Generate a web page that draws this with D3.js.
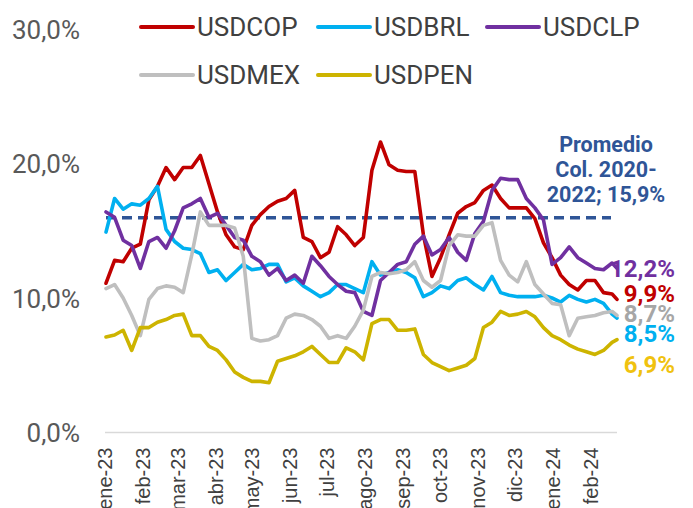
<!DOCTYPE html>
<html>
<head>
<meta charset="utf-8">
<script src="https://cdn.jsdelivr.net/npm/d3@7"></script>
<style>
  html, body { margin: 0; padding: 0; background: #fff; }
  svg { display: block; }
</style>
</head>
<body>
<svg id="chart" width="693" height="508"></svg>
<script>
// ---------- DATA ----------
const seriesNames = ["USDCOP", "USDBRL", "USDCLP", "USDMEX", "USDPEN"];
const monthLabels = ["ene-23","feb-23","mar-23","abr-23","may-23","jun-23","jul-23","ago-23","sep-23","oct-23","nov-23","dic-23","ene-24","feb-24"];
const yTicks = [0, 10, 20, 30];
const promedio = 15.9;
const endLabels = ["12,2%", "9,9%", "8,7%", "8,5%", "6,9%"];

// weekly observations (Mondays from 2 Jan 2023) plus the last day, 23 Feb 2024
const dates = d3.timeMonday.range(new Date(2023, 0, 2), new Date(2024, 1, 20));
dates.push(new Date(2024, 1, 23));

const usdcop = [11.1,12.8,12.7,13.7,14.0,17.3,18.3,19.7,18.8,19.7,19.7,20.6,18.5,16.4,14.7,13.8,13.6,15.4,16.2,16.8,17.2,17.4,18.0,14.5,14.2,13.0,13.4,15.3,14.7,13.9,14.5,19.5,21.6,19.9,19.5,19.4,19.4,14.7,11.6,13.0,14.7,16.3,16.8,17.1,18.0,18.4,17.4,16.7,16.7,16.7,15.9,14.1,13.0,11.7,11.0,10.6,11.3,11.3,10.4,10.3,9.9];
const usdbrl = [14.9,17.4,16.6,17.0,16.9,17.4,18.3,15.1,14.2,13.7,13.6,13.3,11.9,12.1,11.3,11.9,12.5,12.1,12.2,12.5,12.5,11.2,11.5,10.9,10.5,10.1,10.4,11.0,11.0,10.7,10.4,12.7,11.7,11.9,12.1,11.9,11.5,10.1,10.4,10.9,10.7,11.3,11.5,11.0,10.6,11.6,10.4,10.2,10.1,10.1,10.1,10.2,10.0,9.7,10.2,9.9,9.7,9.9,9.6,8.8,8.5];
const usdclp = [16.4,16.0,14.3,13.9,12.2,14.2,14.5,13.7,15.0,16.7,17.0,17.4,16.0,16.3,15.4,14.5,14.3,13.1,12.7,11.7,12.2,11.3,11.7,11.1,13.1,12.4,11.6,11.0,10.5,10.4,9.0,8.7,11.3,11.9,12.5,12.7,14.0,14.6,13.2,13.6,14.5,13.4,12.8,14.8,15.7,18.0,18.9,18.8,18.8,17.4,16.7,15.8,12.5,13.0,13.8,13.0,12.6,12.2,12.1,12.6,12.2];
const usdmex = [10.7,11.0,10.0,8.7,7.2,9.9,10.7,10.9,10.8,10.4,13.2,16.4,15.4,15.4,15.4,15.2,13.1,7.0,6.8,6.9,7.2,8.5,8.8,8.7,8.4,7.9,7.0,7.2,7.0,7.9,9.1,11.6,11.9,11.8,11.9,12.1,12.7,11.3,10.8,11.3,13.9,14.7,14.6,14.6,15.4,15.6,12.8,11.7,11.2,12.7,11.0,10.3,9.6,9.5,7.2,8.5,8.6,8.7,8.9,9.0,8.7];
const usdpen = [7.1,7.25,7.6,6.1,7.8,7.8,8.2,8.4,8.7,8.8,7.2,7.2,6.4,6.1,5.4,4.5,4.1,3.8,3.8,3.7,5.3,5.5,5.7,6.0,6.4,5.8,5.2,5.2,6.3,6.0,5.4,8.1,8.4,8.4,7.6,7.6,7.7,5.8,5.2,4.9,4.6,4.8,5.0,5.5,7.8,8.2,9.0,8.7,8.8,9.0,8.6,7.8,7.2,6.9,6.5,6.2,6.0,5.8,6.1,6.7,6.9];

// ---------- STYLE ----------
const lineColors  = ["#C00000", "#00B0F0", "#7030A0", "#BFBFBF", "#CDB400"];
const labelColors = ["#7030A0", "#C00000", "#A6A6A6", "#00B0F0", "#F0C20F"];
const labelDy     = [8.6, 2.7, 6.5, 24, 33];
const navy = "#2F5597";

const seriesValues = [usdcop, usdbrl, usdclp, usdmex, usdpen];
const series = seriesNames.map((name, k) => ({
  name, color: lineColors[k],
  values: dates.map((d, i) => ({ date: d, value: seriesValues[k][i] }))
}));

const svg = d3.select("#chart");
svg.append("rect").attr("width", 693).attr("height", 508).attr("fill", "#fff");

const x = d3.scaleTime()
  .domain([new Date(2023, 0, 2), new Date(2024, 1, 23)])
  .range([106, 617]);
const y = d3.scaleLinear().domain([0, 30]).range([432.5, 29]);

// Y axis labels
const yAxis = d3.axisLeft(y).tickValues(yTicks)
  .tickFormat(v => d3.format(".1f")(v).replace(".", ",") + "%")
  .tickSize(0).tickPadding(0);
const yg = svg.append("g").attr("transform", "translate(80,0)").call(yAxis);
yg.select(".domain").remove();
yg.selectAll("text")
  .attr("font-family", "Roboto, sans-serif").attr("font-size", 26)
  .attr("fill", "#595959").attr("dy", "0.36em");

// X axis baseline
svg.append("line")
  .attr("x1", 105).attr("x2", 617).attr("y1", y(0)).attr("y2", y(0))
  .attr("stroke", "#D9D9D9").attr("stroke-width", 1.5);

// X axis month labels
const monthDates = monthLabels.map((m, i) => new Date(2023, i, 1));
const xAxis = d3.axisBottom(x).tickValues(monthDates)
  .tickFormat((d, i) => monthLabels[i]).tickSize(0).tickPadding(0);
const xg = svg.append("g").attr("transform", `translate(0,${y(0)})`).call(xAxis);
xg.select(".domain").remove();
xg.selectAll("text")
  .attr("font-family", "'Liberation Sans', Arial, sans-serif").attr("font-size", 20)
  .attr("fill", "#404040")
  .attr("text-anchor", "end")
  .attr("transform", "rotate(-90)")
  .attr("x", -15).attr("y", 0).attr("dy", "0.35em");

// End labels (ordered top to bottom: CLP, COP, MEX, BRL, PEN), drawn under the lines
const endOrder = [2, 0, 3, 1, 4];
svg.append("g").selectAll("text").data(endOrder).join("text")
  .attr("x", 675)
  .attr("y", (k, i) => y(seriesValues[k][seriesValues[k].length - 1]) + labelDy[i])
  .attr("text-anchor", "end")
  .attr("font-family", "Roboto, sans-serif").attr("font-weight", "bold")
  .attr("font-size", 24)
  .attr("fill", (k, i) => labelColors[i])
  .text((k, i) => endLabels[i]);

// Promedio dashed line
svg.append("line")
  .attr("x1", 106).attr("x2", 611)
  .attr("y1", y(promedio) - 1).attr("y2", y(promedio) - 1)
  .attr("stroke", navy).attr("stroke-width", 3.5)
  .attr("stroke-dasharray", "10,6");

// Series lines
const line = d3.line().x(d => x(d.date)).y(d => y(d.value));
svg.append("g").selectAll("path").data(series).join("path")
  .attr("d", s => line(s.values))
  .attr("fill", "none")
  .attr("stroke", s => s.color)
  .attr("stroke-width", 3.6)
  .attr("stroke-linejoin", "round")
  .attr("stroke-linecap", "round");

// Annotation
const ann = svg.append("text")
  .attr("text-anchor", "middle")
  .attr("font-family", "Roboto, sans-serif").attr("font-weight", "bold")
  .attr("font-size", 21.5).attr("fill", navy);
["Promedio", "Col. 2020-", "2022; 15,9%"].forEach((t, i) => {
  ann.append("tspan").attr("x", 606).attr("y", 152 + i * 25).text(t);
});

// Legend
const legendPos = [[140, 27], [317, 27], [486, 27], [140, 75], [317, 75]];
const lg = svg.append("g").selectAll("g").data(series).join("g")
  .attr("transform", (s, i) => `translate(${legendPos[i][0]},${legendPos[i][1]})`);
lg.append("line").attr("x1", 1).attr("x2", 53)
  .attr("stroke", s => s.color).attr("stroke-width", 4).attr("stroke-linecap", "round");
lg.append("text").attr("x", 57).attr("y", 0).attr("dy", "0.36em")
  .attr("font-family", "Roboto, sans-serif").attr("font-size", 26)
  .attr("fill", "#404040").text(s => s.name);
</script>
</body>
</html>
